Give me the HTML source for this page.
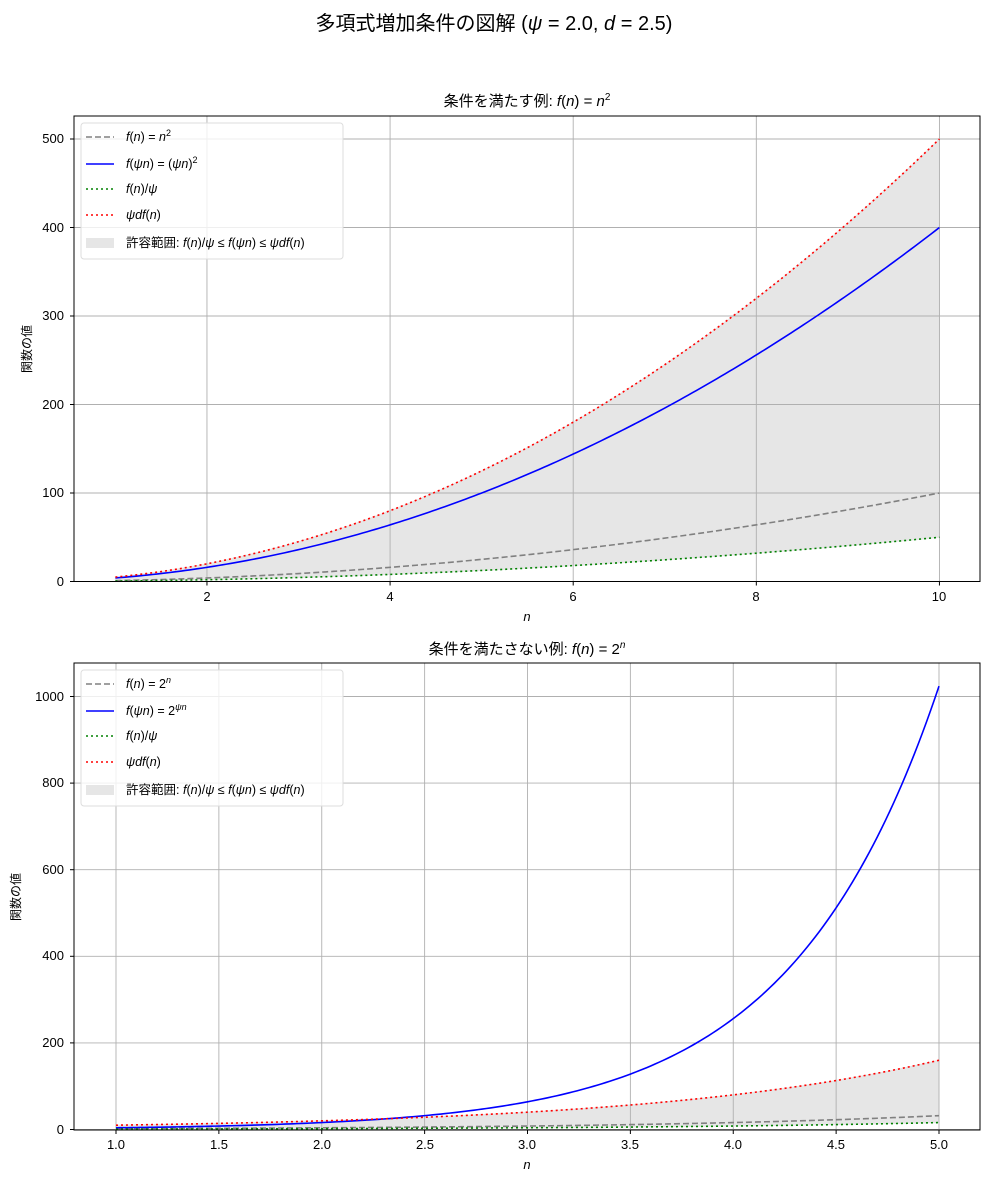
<!DOCTYPE html>
<html><head><meta charset="utf-8"><style>
body{margin:0;background:#fff;}
svg{display:block;font-family:"Liberation Sans","Noto Sans CJK JP",sans-serif;}
.t{font-size:13px;fill:#000}
.i{font-style:italic}
</style></head><body>
<svg id="s" width="989" height="1180" xmlns="http://www.w3.org/2000/svg">
<text x="494" y="30" text-anchor="middle" font-size="20">多項式増加条件の図解 (<tspan class="i">ψ</tspan> = 2.0, <tspan class="i">d</tspan> = 2.5)</text>
<text x="527" y="106" text-anchor="middle" font-size="15">条件を満たす例: <tspan class="i">f</tspan>(<tspan class="i">n</tspan>) = <tspan class="i">n</tspan><tspan font-size="10" dy="-6">2</tspan></text>
<text x="527" y="654" text-anchor="middle" font-size="15">条件を満たさない例: <tspan class="i">f</tspan>(<tspan class="i">n</tspan>) = 2<tspan font-size="10" dy="-6" class="i">n</tspan></text>
<g id="g1"></g><g id="g2"></g>
<!-- top ticks -->
<g class="t" text-anchor="middle">
<text x="207" y="601">2</text><text x="390" y="601">4</text><text x="573" y="601">6</text><text x="756" y="601">8</text><text x="939" y="601">10</text>
<text x="527" y="621" class="i">n</text>
<text x="116" y="1149">1.0</text><text x="219" y="1149">1.5</text><text x="322" y="1149">2.0</text><text x="425" y="1149">2.5</text><text x="527" y="1149">3.0</text><text x="630" y="1149">3.5</text><text x="733" y="1149">4.0</text><text x="836" y="1149">4.5</text><text x="939" y="1149">5.0</text>
<text x="527" y="1169" class="i">n</text>
</g>
<g class="t" text-anchor="end">
<text x="64" y="586">0</text><text x="64" y="497">100</text><text x="64" y="409">200</text><text x="64" y="320">300</text><text x="64" y="232">400</text><text x="64" y="143">500</text>
<text x="64" y="1134">0</text><text x="64" y="1047">200</text><text x="64" y="960">400</text><text x="64" y="874">600</text><text x="64" y="787">800</text><text x="64" y="701">1000</text>
</g>
<text transform="translate(31,349) rotate(-90)" text-anchor="middle" font-size="12">関数の値</text>
<text transform="translate(20,897) rotate(-90)" text-anchor="middle" font-size="12">関数の値</text>
</svg>
<script>
const NS="http://www.w3.org/2000/svg";
function el(p,t,a){const e=document.createElementNS(NS,t);for(const k in a)e.setAttribute(k,a[k]);p.appendChild(e);return e;}
function txt(p,x,y,html){const e=el(p,"text",{x:x,y:y,"font-size":"12.5"});e.innerHTML=html;}
function plot(g,ax,n0,n1,X,Y,f,fp,xt,yt,leg){
  g=document.getElementById(g);
  const N=200,pts=a=>{let s=[];for(let i=0;i<=N;i++){const n=n0+(n1-n0)*i/N;s.push(X(n).toFixed(2)+","+Y(a(n)).toFixed(2));}return s;};
  const lo=pts(n=>f(n)/2),hi=pts(n=>5*f(n));
  el(g,"polygon",{points:lo.concat(hi.reverse()).join(" "),fill:"#e6e6e6",stroke:"#e6e6e6"});
  xt.forEach(v=>el(g,"line",{x1:X(v),x2:X(v),y1:ax[1],y2:ax[3],stroke:"#b0b0b0","stroke-width":0.9}));
  yt.forEach(v=>el(g,"line",{y1:Y(v),y2:Y(v),x1:ax[0],x2:ax[2],stroke:"#b0b0b0","stroke-width":0.9}));
  const line=(a,c,d)=>el(g,"polyline",{points:pts(a).join(" "),fill:"none",stroke:c,"stroke-width":1.6,"stroke-dasharray":d||"none"});
  line(f,"#808080","6,3");line(fp,"#0000ff");line(n=>f(n)/2,"#008000","2,3");line(n=>5*f(n),"#ff0000","2,3");
  xt.forEach(v=>el(g,"line",{x1:X(v),x2:X(v),y1:ax[3],y2:ax[3]+4,stroke:"#000"}));
  yt.forEach(v=>el(g,"line",{y1:Y(v),y2:Y(v),x1:ax[0],x2:ax[0]-4,stroke:"#000"}));
  el(g,"rect",{x:ax[0],y:ax[1],width:ax[2]-ax[0],height:ax[3]-ax[1],fill:"none",stroke:"#000","stroke-width":1});
  const lx=ax[0]+7,ly=ax[1]+7;
  el(g,"rect",{x:lx,y:ly,width:262,height:136,rx:3,fill:"#fff","fill-opacity":0.8,stroke:"#ddd"});
  const sy=[ly+14,ly+41,ly+66,ly+92,ly+120];
  el(g,"line",{x1:lx+5,x2:lx+33,y1:sy[0],y2:sy[0],stroke:"#808080","stroke-width":1.6,"stroke-dasharray":"6,3"});
  el(g,"line",{x1:lx+5,x2:lx+33,y1:sy[1],y2:sy[1],stroke:"#0000ff","stroke-width":1.6});
  el(g,"line",{x1:lx+5,x2:lx+33,y1:sy[2],y2:sy[2],stroke:"#008000","stroke-width":1.6,"stroke-dasharray":"2,3"});
  el(g,"line",{x1:lx+5,x2:lx+33,y1:sy[3],y2:sy[3],stroke:"#ff0000","stroke-width":1.6,"stroke-dasharray":"2,3"});
  el(g,"rect",{x:lx+5,y:sy[4]-5,width:28,height:10,fill:"#e6e6e6"});
  leg.forEach((h,i)=>txt(g,lx+45,sy[i]+4,h));
}
const I=s=>'<tspan font-style="italic">'+s+'</tspan>';
const last='許容範囲: '+I('f')+'('+I('n')+')/'+I('ψ')+' ≤ '+I('f')+'('+I('ψn')+') ≤ '+I('ψdf')+'('+I('n')+')';
plot("g1",[74,116,980,581.5],1,10,n=>115.4+(n-1)*91.56,v=>581.5-v*0.885,n=>n*n,n=>4*n*n,[2,4,6,8,10],[0,100,200,300,400,500],
 [I('f')+'('+I('n')+') = '+I('n')+'<tspan font-size="9" dy="-5">2</tspan>',I('f')+'('+I('ψn')+') = ('+I('ψn')+')<tspan font-size="9" dy="-5">2</tspan>',I('f')+'('+I('n')+')/'+I('ψ'),I('ψdf')+'('+I('n')+')',last]);
plot("g2",[74,663,980,1130],1,5,n=>116+(n-1)*205.75,v=>1129.5-v*0.433,n=>Math.pow(2,n),n=>Math.pow(2,2*n),[1,1.5,2,2.5,3,3.5,4,4.5,5],[0,200,400,600,800,1000],
 [I('f')+'('+I('n')+') = 2<tspan font-size="9" dy="-5" font-style="italic">n</tspan>',I('f')+'('+I('ψn')+') = 2<tspan font-size="9" dy="-5" font-style="italic">ψn</tspan>',I('f')+'('+I('n')+')/'+I('ψ'),I('ψdf')+'('+I('n')+')',last]);
</script>
</body></html>
